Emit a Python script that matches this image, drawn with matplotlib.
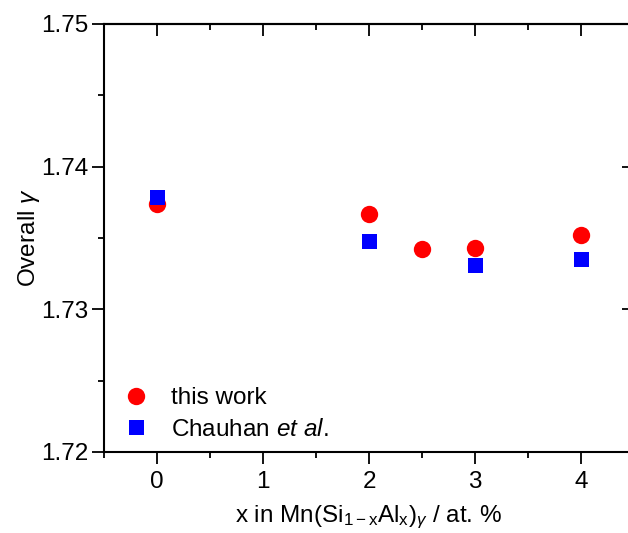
import numpy as np
import matplotlib
matplotlib.use('Agg')
from matplotlib import pyplot as plt
from matplotlib.ticker import MultipleLocator, FormatStrFormatter

plt.rcParams['font.family'] = ['Liberation Sans', 'DejaVu Sans']
plt.rcParams['mathtext.fontset'] = 'custom'
plt.rcParams['mathtext.rm'] = 'Liberation Sans'
plt.rcParams['mathtext.it'] = 'Liberation Sans:italic'

# data
x_this = [0, 2, 2.5, 3, 4]
y_this = [1.7374, 1.7367, 1.7342, 1.7343, 1.7352]
x_chauhan = [0, 2, 3, 4]
y_chauhan = [1.7379, 1.7348, 1.7331, 1.7335]

fs = 17.5

fig = plt.figure(figsize=(6.28, 5.33), dpi=100)
ax = fig.add_axes([0.1656, 0.152, 0.8440, 0.803])

ax.plot(x_this, y_this, 'o', color='#ff0000', markersize=12.5, markeredgewidth=0,
        label='this work', zorder=3)
ax.plot(x_chauhan, y_chauhan, 's', color='#0000ff', markersize=10.8, markeredgewidth=0,
        label='Chauhan $\\it{et\\ al}$.', zorder=4)

ax.set_xlim(-0.5, 4.5)
ax.set_ylim(1.72, 1.75)
ax.xaxis.set_major_locator(MultipleLocator(1))
ax.xaxis.set_minor_locator(MultipleLocator(0.5))
ax.yaxis.set_major_locator(MultipleLocator(0.01))
ax.yaxis.set_minor_locator(MultipleLocator(0.005))
ax.yaxis.set_major_formatter(FormatStrFormatter('%.2f'))

# bottom / left ticks point outwards
ax.tick_params(which='both', direction='out', width=1.3, labelsize=fs)
ax.tick_params(which='major', length=8.5)
ax.tick_params(which='minor', length=4.5)
ax.tick_params(axis='x', which='major', pad=5)
ax.tick_params(axis='y', which='major', pad=3)

# top / right ticks point inwards, no labels
top = ax.secondary_xaxis('top')
right = ax.secondary_yaxis('right')
for sec in (top, right):
    sec.tick_params(which='both', direction='in', width=1.3, labelsize=0)
    sec.tick_params(which='major', length=8.5)
    sec.tick_params(which='minor', length=4.5)
    sec.spines[:].set_linewidth(1.5)
top.xaxis.set_major_locator(MultipleLocator(1))
top.xaxis.set_minor_locator(MultipleLocator(0.5))
right.yaxis.set_major_locator(MultipleLocator(0.01))
right.yaxis.set_minor_locator(MultipleLocator(0.005))
top.set_xticklabels([])
right.set_yticklabels([])

for s in ax.spines.values():
    s.set_linewidth(1.5)

ax.set_xlabel('x in Mn(Si$_{\\mathrm{1-x}}$Al$_\\mathrm{x}$)$_\\gamma$ / at. %',
              fontsize=fs, labelpad=8)
ax.set_ylabel('Overall $\\gamma$', fontsize=fs, labelpad=-1)

ax.legend(loc='lower left', frameon=False, fontsize=fs, handlelength=1.0,
          handletextpad=0.9, borderaxespad=0.0, labelspacing=0.38,
          bbox_to_anchor=(0.02, 0.004))

fig.savefig('out.png', dpi=100)
